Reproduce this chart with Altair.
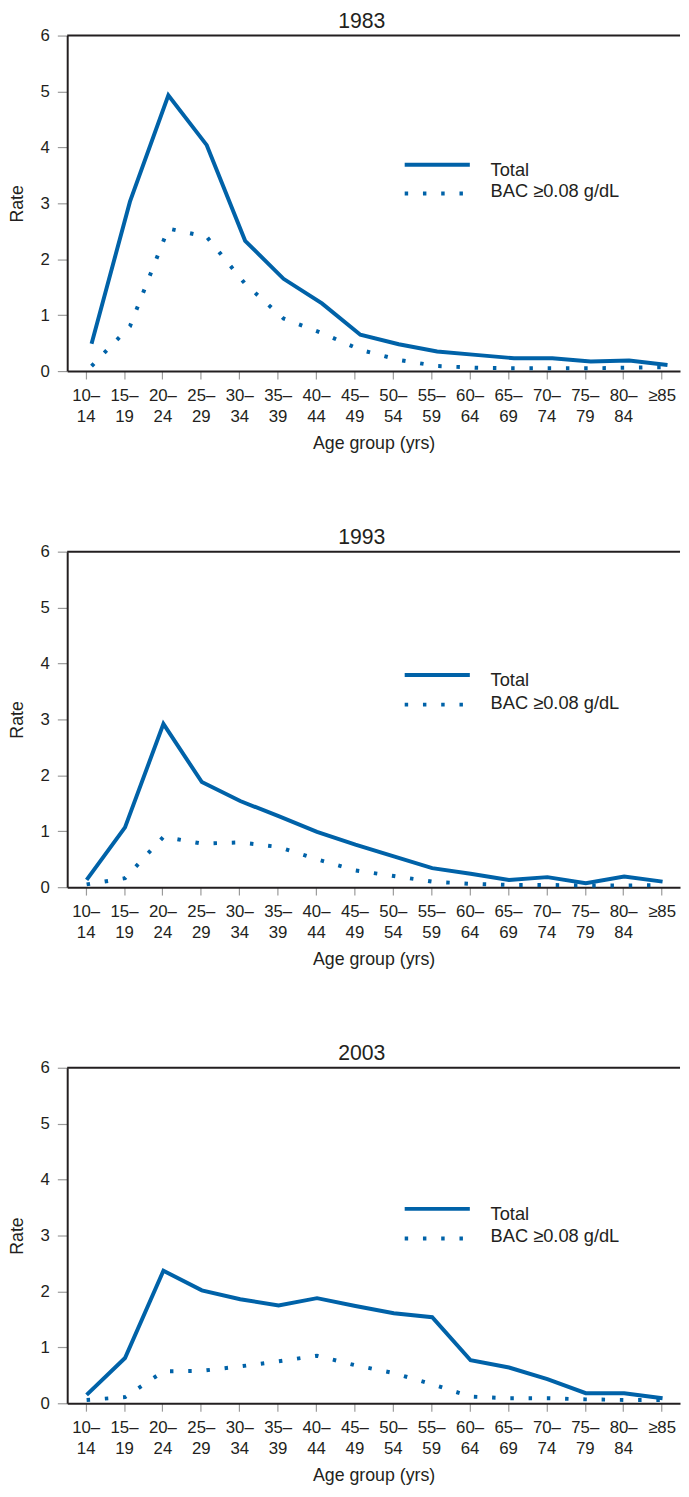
import json
import altair as alt
import pandas as pd

# ---- data ----
age_groups = ["10–14", "15–19", "20–24", "25–29", "30–34", "35–39", "40–44", "45–49",
              "50–54", "55–59", "60–64", "65–69", "70–74", "75–79", "80–84", "≥85"]
age_label_lines = [["10–", "14"], ["15–", "19"], ["20–", "24"], ["25–", "29"],
                   ["30–", "34"], ["35–", "39"], ["40–", "44"], ["45–", "49"],
                   ["50–", "54"], ["55–", "59"], ["60–", "64"], ["65–", "69"],
                   ["70–", "74"], ["75–", "79"], ["80–", "84"], ["≥85", ""]]
years = ["1983", "1993", "2003"]

total_1983 = [0.49, 3.03, 4.93, 4.04, 2.33, 1.65, 1.21, 0.65, 0.48, 0.35, 0.29, 0.23, 0.23, 0.17, 0.19, 0.11]
bac_1983 = [0.09, 0.80, 2.55, 2.40, 1.56, 0.94, 0.68, 0.38, 0.20, 0.09, 0.06, 0.05, 0.05, 0.05, 0.06, 0.07]
total_1993 = [0.13, 1.07, 2.92, 1.88, 1.54, 1.27, 0.99, 0.76, 0.55, 0.34, 0.24, 0.13, 0.18, 0.07, 0.19, 0.10]
bac_1993 = [0.05, 0.16, 0.90, 0.78, 0.80, 0.72, 0.50, 0.30, 0.20, 0.10, 0.06, 0.04, 0.04, 0.03, 0.03, 0.04]
total_2003 = [0.15, 0.81, 2.37, 2.02, 1.86, 1.75, 1.88, 1.74, 1.61, 1.54, 0.77, 0.64, 0.43, 0.18, 0.18, 0.09]
bac_2003 = [0.06, 0.11, 0.57, 0.58, 0.66, 0.75, 0.85, 0.68, 0.54, 0.34, 0.12, 0.09, 0.09, 0.07, 0.06, 0.06]

series_names = ["Total", "BAC ≥0.08 g/dL"]
y_ticks = [0, 1, 2, 3, 4, 5, 6]

totals = {"1983": total_1983, "1993": total_1993, "2003": total_2003}
bacs = {"1983": bac_1983, "1993": bac_1993, "2003": bac_2003}

# ---- style / layout ----
FONT = "Liberation Sans"
BLUE = "#0062A8"
INK = "#231F20"
TICK = "#9A9A9A"
W, H = 621, 340
# legend rows per panel: (solid rule y, Total text y, dotted rule y, BAC text y)
legend_pos = {"1983": (131, 136, 160, 158),
              "1993": (125, 130, 155, 153),
              "2003": (143, 148, 173, 171)}
line_shift = {"1983": 6, "1993": 1, "2003": 1}
DASH = [3.5, 15]

label_expr = json.dumps(age_label_lines, ensure_ascii=False) + "[datum.value]"


def panel(year):
    df = pd.DataFrame({
        "idx": list(range(len(age_groups))) * 2,
        "age": age_groups * 2,
        "rate": totals[year] + bacs[year],
        "series": [series_names[0]] * len(age_groups) + [series_names[1]] * len(age_groups),
    })
    x = alt.X("idx:Q",
              scale=alt.Scale(domain=[-0.48, 15.48], nice=False, zero=False),
              axis=alt.Axis(values=list(range(len(age_groups))), labelExpr=label_expr,
                            title="Age group (yrs)", grid=False, tickSize=8,
                            labelPadding=9, labelLineHeight=21, titlePadding=10,
                            labelFlush=False, labelOverlap=False))
    y = alt.Y("rate:Q",
              scale=alt.Scale(domain=[0, 6], nice=False),
              axis=alt.Axis(values=y_ticks, title="Rate", grid=False, tickSize=10,
                            labelPadding=8, titlePadding=14))
    base = alt.Chart(df)
    total_line = base.transform_filter(alt.datum.series == series_names[0]).mark_line(
        color=BLUE, strokeWidth=4, strokeJoin="miter", strokeCap="butt", xOffset=line_shift[year]
    ).encode(x=x, y=y)
    bac_line = base.transform_filter(alt.datum.series == series_names[1]).mark_line(
        color=BLUE, strokeWidth=4, strokeDash=DASH, strokeCap="butt", xOffset=line_shift[year]
    ).encode(x=x, y=y)

    r1, t1, r2, t2 = legend_pos[year]
    leg1 = pd.DataFrame({"label": [series_names[0]]})
    leg2 = pd.DataFrame({"label": [series_names[1]]})
    rule1 = alt.Chart(leg1).mark_rule(color=BLUE, strokeWidth=4, strokeCap="butt").encode(
        x=alt.value(342), x2=alt.value(408), y=alt.value(r1))
    rule2 = alt.Chart(leg2).mark_rule(color=BLUE, strokeWidth=4, strokeDash=DASH, strokeCap="butt").encode(
        x=alt.value(342), x2=alt.value(404), y=alt.value(r2))
    text1 = alt.Chart(leg1).mark_text(align="left", baseline="middle", fontSize=18.5, font=FONT, color=INK).encode(
        x=alt.value(429), y=alt.value(t1), text="label:N")
    text2 = alt.Chart(leg2).mark_text(align="left", baseline="middle", fontSize=18.5, font=FONT, color=INK).encode(
        x=alt.value(429), y=alt.value(t2), text="label:N")
    top_border = alt.Chart(leg1).mark_rule(color=INK, strokeWidth=2).encode(
        x=alt.value(0), x2=alt.value(W), y=alt.value(0))

    return alt.layer(total_line, bac_line, rule1, rule2, text1, text2, top_border).properties(
        width=W, height=H,
        title=alt.TitleParams(year, fontSize=21.5, font=FONT, fontWeight="normal", color=INK,
                              offset=-6, dx=-12),
    )


chart = alt.vconcat(*[panel(yr) for yr in years], spacing=76).properties(
    padding={"left": 0, "right": 0, "top": -7, "bottom": 0}
).configure_view(stroke=None).configure_axis(
    labelFont=FONT, titleFont=FONT, labelFontSize=17, titleFontSize=18,
    labelColor=INK, titleColor=INK, titleFontWeight="normal",
    domainColor=INK, domainWidth=2, tickColor=TICK, tickWidth=1.2,
).configure_axisY(labelAngle=0)

chart.save("out.html", embed_options={"renderer": "svg", "actions": False})
